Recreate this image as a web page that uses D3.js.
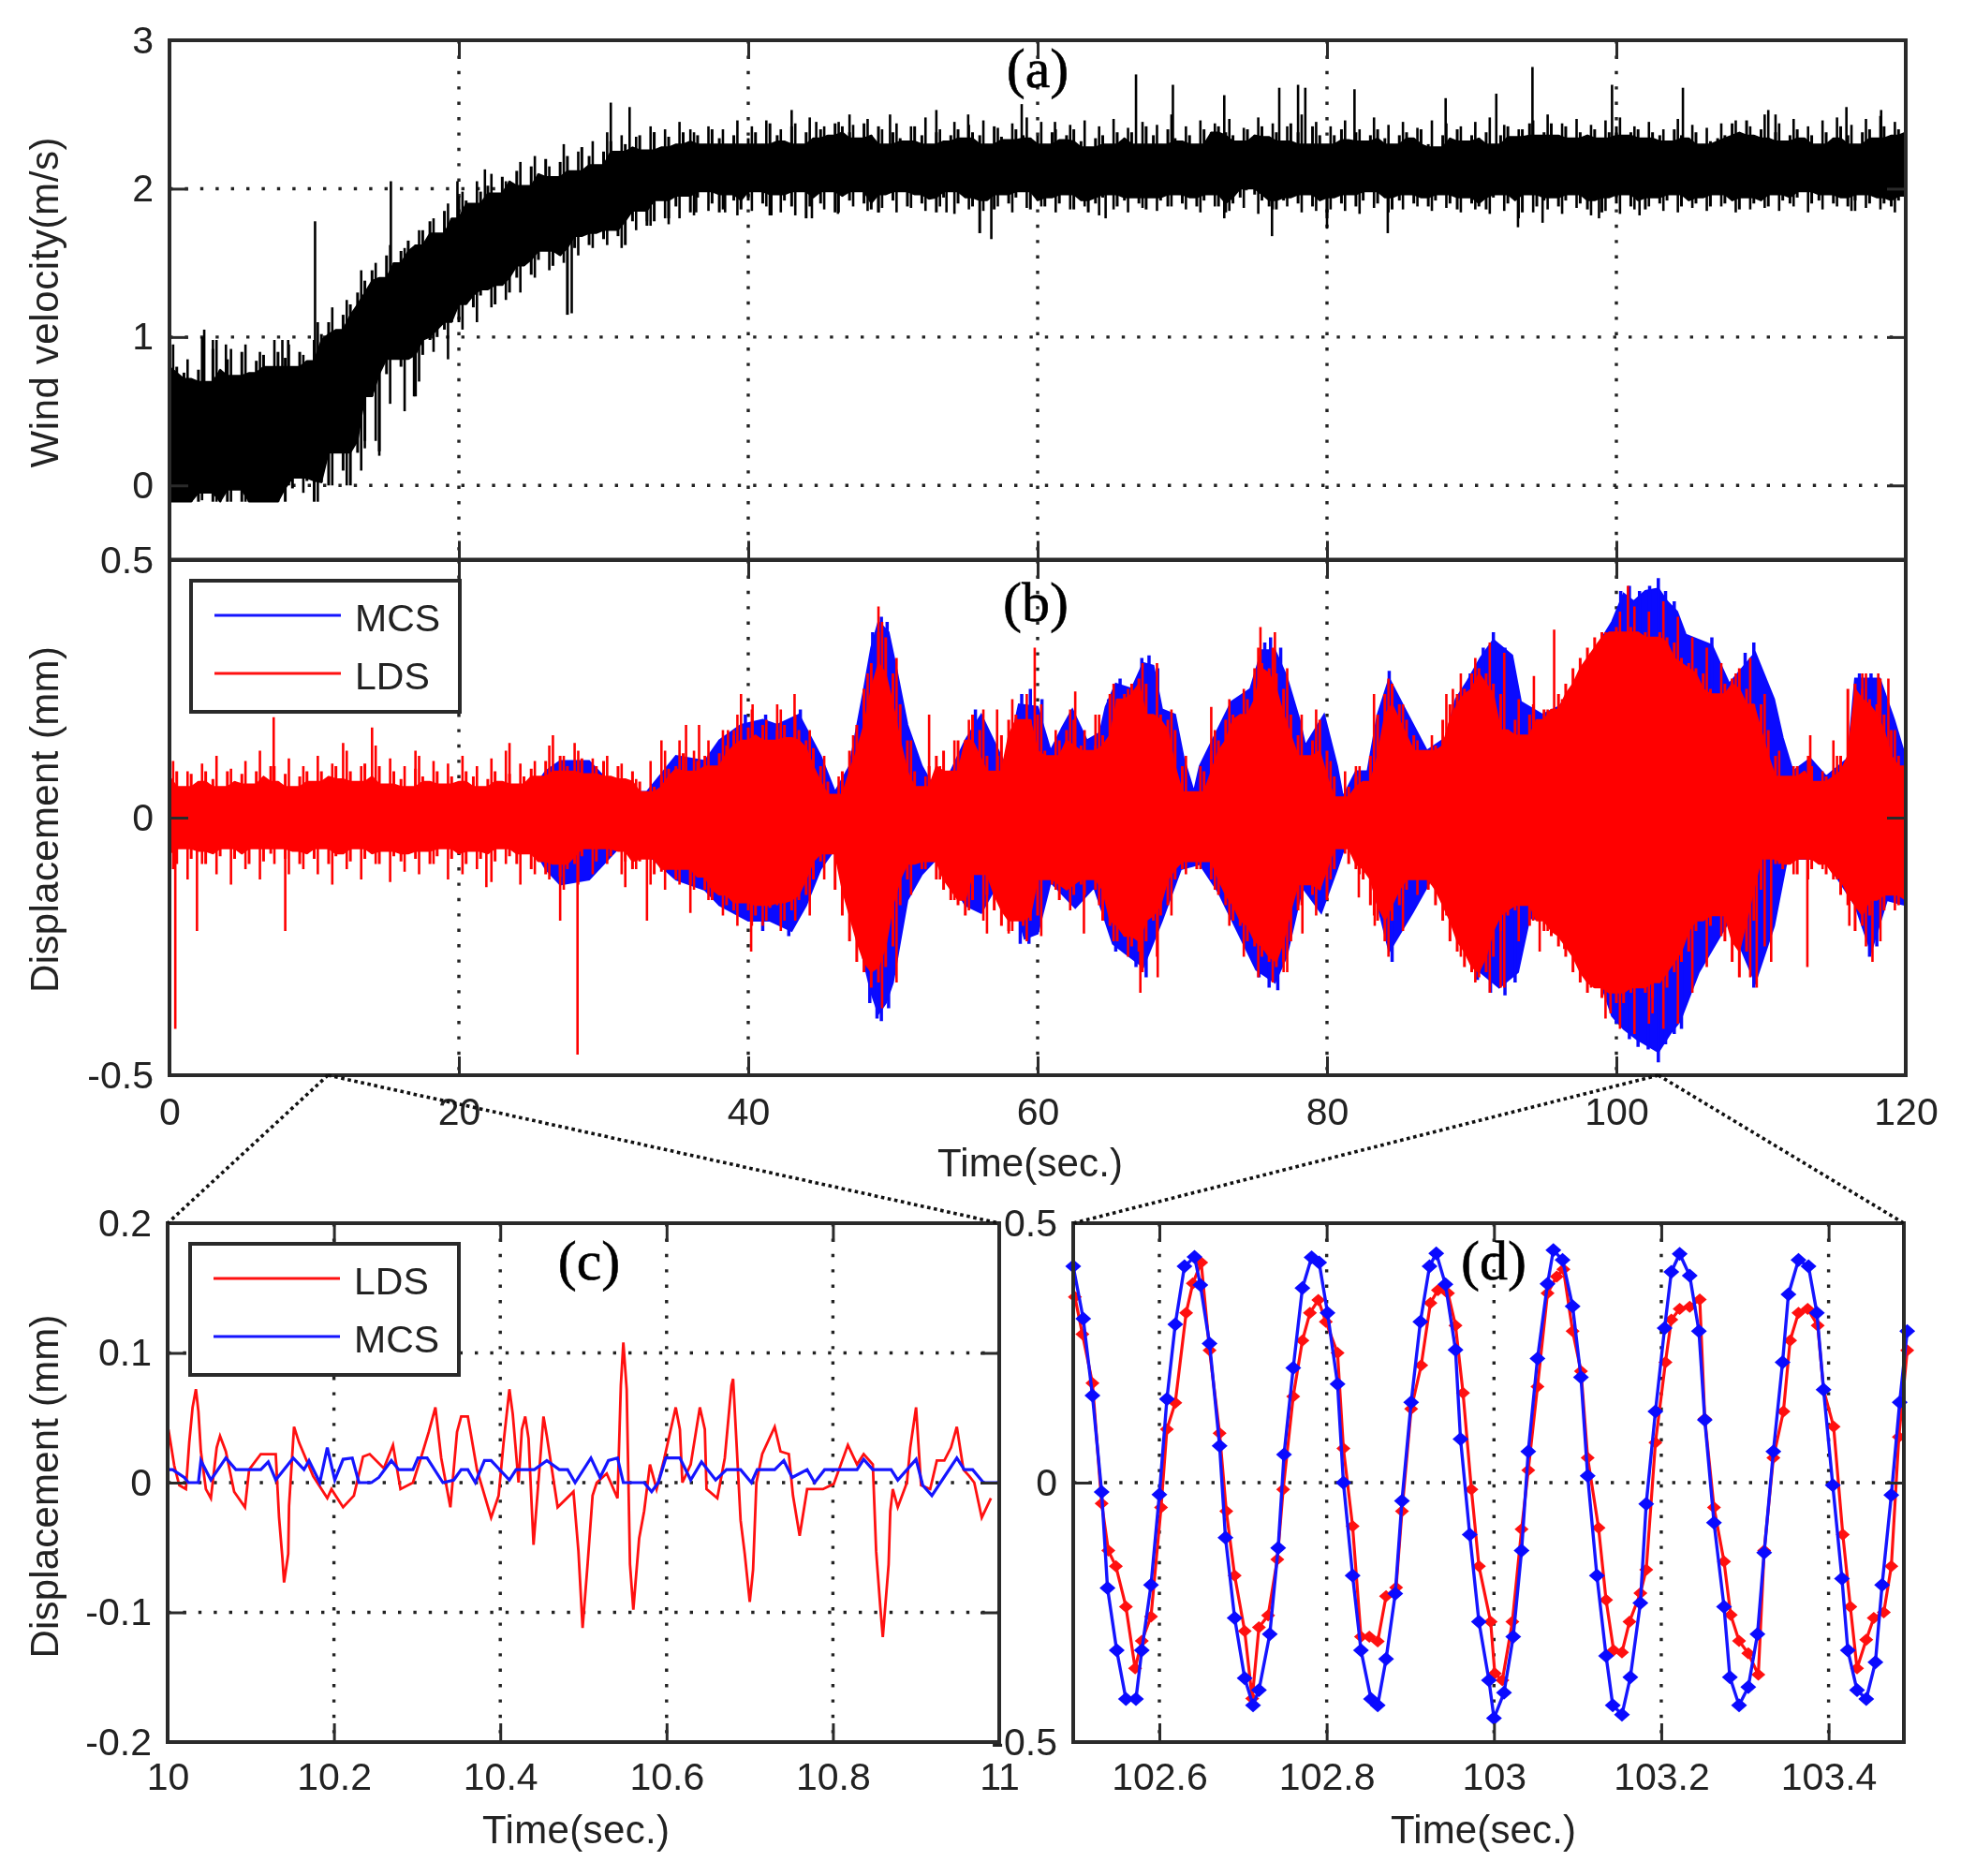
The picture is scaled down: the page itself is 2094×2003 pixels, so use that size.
<![CDATA[<!DOCTYPE html>
<html><head><meta charset="utf-8">
<script src="https://cdn.jsdelivr.net/npm/d3@7"></script>
<style>
html,body{margin:0;padding:0;background:#fff}
svg{display:block;filter:blur(0.7px)}
text{font-family:"Liberation Sans",Arial,sans-serif;fill:#222}
.serif{font-family:"Liberation Serif","Times New Roman",serif;fill:#000;stroke:#000;stroke-width:.6px}
</style></head><body>
<svg id="c" width="2094" height="2003"></svg>
<script>
// ---------- data read from the picture ----------
const bTicksX=[0,20,40,60,80,100,120];
const aTicksY=[3,2,1,0];
const bTicksY=[0.5,0,-0.5];
const cTicksX=[10,10.2,10.4,10.6,10.8,11];
const cTicksY=[0.2,0.1,0,-0.1,-0.2];
const dTicksX=[102.6,102.8,103,103.2,103.4];
const dTicksY=[0.5,0,-0.5];
const sampleStep=0.5; // seconds between the envelope samples below

const windHi=[1.05,.80,.76,.72,.78,.70,.92,.78,.85,.74,.90,.76,.84,.88,.80,.90,.86,.80,.90,.84,
.98,1.02,1.10,1.05,1.15,1.22,1.30,1.38,1.45,1.40,1.55,1.50,1.58,1.65,1.62,1.72,1.78,1.70,1.85,1.80,
1.95,1.92,1.90,1.98,2.02,1.97,2.08,2.05,2.12,2.02,2.15,2.10,2.20,2.08,2.18,2.22,2.12,2.28,2.22,2.16,
2.25,2.32,2.25,2.30,2.28,2.36,2.26,2.38,2.28,2.35,2.30,2.38,2.32,2.36,2.30,2.40,2.34,2.30,2.36,2.30,
2.34,2.38,2.30,2.44,2.36,2.32,2.42,2.30,2.38,2.34,2.40,2.36,2.44,2.42,2.38,2.34,2.44,2.36,2.42,2.30,
2.38,2.34,2.32,2.42,2.36,2.30,2.38,2.32,2.36,2.40,2.34,2.38,2.36,2.30,2.42,2.35,2.33,2.40,2.36,2.34,
2.36,2.30,2.38,2.33,2.36,2.40,2.32,2.28,2.34,2.36,2.30,2.38,2.34,2.38,2.30,2.42,2.36,2.30,2.40,2.34,
2.32,2.36,2.30,2.40,2.38,2.42,2.38,2.36,2.32,2.40,2.36,2.42,2.35,2.38,2.32,2.44,2.38,2.30,2.42,2.36,
2.30,2.36,2.40,2.33,2.38,2.32,2.36,2.40,2.34,2.30,2.36,2.38,2.34,2.40,2.30,2.28,2.36,2.34,2.40,2.32,
2.36,2.34,2.38,2.30,2.36,2.42,2.35,2.40,2.44,2.36,2.38,2.44,2.36,2.42,2.34,2.38,2.36,2.40,2.34,2.38,
2.42,2.36,2.38,2.40,2.34,2.38,2.36,2.32,2.40,2.36,2.34,2.38,2.30,2.32,2.34,2.36,2.44,2.38,2.46,2.36,
2.40,2.34,2.38,2.32,2.36,2.40,2.34,2.36,2.30,2.38,2.34,2.42,2.36,2.30,2.38,2.40,2.34,2.42,2.36,2.40,2.38];
const windLo=[-.11,-.11,-.11,-.11,-.11,-.05,-.11,-.11,-.11,-.03,-.11,-.11,-.11,-.11,-.11,-.11,-.11,-.02,.05,.03,
-.11,.02,.00,.22,.10,.00,.22,.30,.60,.23,.75,.85,.80,.85,.60,.88,.98,1.00,1.05,1.10,
1.10,1.22,1.20,1.28,1.32,1.22,1.35,1.30,1.40,1.48,1.42,1.52,1.58,1.48,1.55,1.15,1.60,1.68,1.62,1.70,
1.66,1.72,1.68,1.62,1.78,1.85,1.75,1.78,1.92,1.80,1.88,1.95,1.84,1.94,1.98,1.90,1.84,1.96,1.92,1.86,
1.92,1.98,1.90,1.82,1.96,1.92,1.88,1.98,1.80,1.94,1.90,1.98,1.84,1.95,1.92,1.98,1.90,1.86,1.84,1.96,
1.92,1.98,1.88,1.96,1.90,1.93,1.84,1.94,1.98,1.90,1.94,1.88,1.70,1.92,1.86,1.96,1.90,1.94,1.98,1.86,
1.92,1.88,1.94,1.90,1.96,1.86,1.92,1.84,1.90,1.94,1.96,1.88,1.92,1.94,1.90,1.86,1.94,1.92,1.88,1.96,
1.90,1.94,1.88,1.92,1.96,1.88,1.84,1.90,1.94,2.00,1.96,1.92,1.88,1.86,1.92,1.94,1.90,1.96,1.88,1.92,
1.80,1.94,1.90,1.96,1.88,1.92,1.98,1.90,1.94,1.86,1.92,1.96,1.90,1.94,1.88,1.92,1.96,1.90,1.86,1.94,
1.90,1.88,1.86,1.94,1.96,1.90,1.92,1.84,1.96,1.88,1.92,1.94,1.88,1.92,1.96,1.90,1.86,1.92,1.84,1.94,
1.90,1.96,1.88,1.92,1.86,1.94,1.90,1.92,1.96,1.88,1.92,1.90,1.94,1.88,1.96,1.90,1.92,1.86,1.94,1.90,
1.92,1.88,1.96,1.92,1.90,1.94,1.98,1.90,1.92,1.96,1.90,1.94,1.88,1.92,1.96,1.90,1.94,1.90,1.88,1.92,1.95];
// fringe peaks, one per second (at second + 0.25)
const windFringeHi=[.95,.85,1.0,.98,.92,.95,.9,.98,.95,.88,1.1,1.2,1.25,1.45,1.5,1.62,1.6,1.72,1.8,1.9,
1.98,2.05,2.1,2.05,2.18,2.22,2.15,2.3,2.25,2.32,2.38,2.36,2.35,2.42,2.4,2.45,2.38,2.42,2.4,2.46,
2.42,2.46,2.4,2.44,2.48,2.42,2.45,2.43,2.47,2.4,2.44,2.42,2.48,2.4,2.45,2.43,2.46,2.41,2.44,2.48,
2.45,2.4,2.43,2.46,2.42,2.47,2.41,2.45,2.43,2.5,2.42,2.46,2.44,2.47,2.41,2.48,2.44,2.42,2.5,2.45,
2.42,2.46,2.4,2.48,2.43,2.45,2.41,2.46,2.44,2.42,2.45,2.48,2.43,2.4,2.46,2.5,2.44,2.47,2.43,2.46,
2.48,2.42,2.45,2.4,2.47,2.43,2.41,2.44,2.46,2.42,2.5,2.44,2.47,2.42,2.46,2.48,2.43,2.47,2.49,2.45];
const windFringeLo=[-.11,-.11,-.1,-.11,-.11,-.11,-.1,-.03,0,-.05,-.11,0,0,.1,.3,.55,.5,.7,.9,.85,
1.05,1.1,1.2,1.25,1.3,1.4,1.45,1.5,1.55,1.6,1.62,1.6,1.72,1.75,1.8,1.8,1.82,1.85,1.86,1.82,
1.85,1.88,1.84,1.82,1.88,1.86,1.84,1.88,1.85,1.87,1.84,1.87,1.85,1.88,1.83,1.86,1.85,1.88,1.84,1.87,
1.88,1.84,1.86,1.88,1.82,1.86,1.84,1.87,1.85,1.88,1.86,1.84,1.88,1.85,1.87,1.83,1.86,1.88,1.84,1.85,
1.86,1.85,1.83,1.87,1.84,1.86,1.88,1.85,1.87,1.84,1.86,1.83,1.85,1.8,1.84,1.86,1.83,1.87,1.82,1.85,
1.83,1.86,1.88,1.85,1.84,1.87,1.85,1.88,1.84,1.86,1.87,1.85,1.88,1.84,1.86,1.88,1.85,1.87,1.86,1.84];
const windSpikes=[[2.4,1.05],[3,.98],[3.9,.95],[7.8,.98],[8.2,.98],[10.06,1.78],[15.3,2.05],[19.9,2.05],[21.8,2.13],[30.5,2.58],[31.8,2.55],[33.5,2.38],[36,2.4],[43,2.53],[44.7,2.45],[47,2.5],[49.8,2.5],[53,2.53],[55.2,2.5],[58.9,2.57],[61.2,2.45],[66.8,2.77],[69.35,2.7],[72.9,2.63],[76.7,2.68],[78,2.7],[78.5,2.68],[81.9,2.67],[88.2,2.61],[91.7,2.64],[94.2,2.82],[99.7,2.7],[104.6,2.68],[110.5,2.53],[111,2.5],[115.9,2.55],[118.3,2.53],
[13.5,.25],[14.5,.2],[16.9,.6],[27.8,1.16],[33,1.78],[34.5,1.76],[36.4,1.84],[38.4,1.84],[41.6,1.82],[44.4,1.8],[46.2,1.83],[49,1.84],[53.7,1.84],[56.8,1.66],[64.7,1.8],[72.9,1.8],[76.2,1.68],[80,1.73],[84.2,1.7],[93.2,1.74],[94.9,1.77],[98.8,1.8],[101.6,1.82],[116.5,1.85]];

const ldsHi=[.08,.09,.06,.085,.07,.09,.075,.06,.09,.07,.085,.065,.09,.08,.10,.07,.085,.06,.08,.09,
.07,.09,.08,.10,.075,.09,.07,.105,.08,.10,.065,.09,.075,.06,.095,.08,.07,.09,.065,.08,
.07,.09,.08,.06,.075,.09,.07,.085,.065,.08,.095,.08,.11,.09,.12,.10,.09,.115,.085,.10,
.11,.08,.10,.075,.09,.07,.05,.06,.08,.095,.10,.125,.09,.11,.12,.10,.125,.14,.16,.15,
.175,.16,.18,.15,.17,.18,.155,.17,.15,.135,.10,.07,.045,.09,.13,.18,.25,.30,.36,.35,
.28,.22,.15,.09,.06,.10,.12,.13,.09,.15,.15,.20,.17,.12,.09,.16,.19,.20,.19,.19,
.20,.13,.12,.15,.17,.19,.14,.13,.14,.16,.24,.23,.24,.26,.27,.26,.20,.20,.19,.17,
.10,.05,.05,.09,.13,.15,.19,.20,.20,.23,.29,.30,.29,.28,.25,.20,.16,.12,.15,.19,
.13,.08,.04,.06,.08,.07,.12,.20,.24,.26,.22,.19,.16,.13,.13,.14,.19,.22,.24,.25,
.28,.29,.28,.26,.24,.17,.19,.16,.20,.19,.21,.21,.24,.26,.29,.31,.33,.35,.36,.36,
.37,.36,.37,.36,.36,.35,.36,.35,.34,.31,.30,.29,.28,.25,.24,.26,.27,.29,.25,.22,
.22,.17,.12,.08,.08,.10,.09,.10,.07,.08,.09,.12,.25,.26,.25,.23,.22,.20,.17,.12,.10];
const ldsLo=[-.07,-.09,-.06,-.08,-.065,-.09,-.07,-.075,-.06,-.08,-.07,-.09,-.06,-.085,-.07,-.06,-.08,-.065,-.09,-.07,
-.08,-.06,-.09,-.075,-.07,-.085,-.06,-.08,-.07,-.09,-.065,-.075,-.085,-.07,-.08,-.065,-.09,-.075,-.06,-.08,
-.07,-.09,-.065,-.08,-.07,-.085,-.06,-.075,-.09,-.07,-.10,-.085,-.11,-.09,-.115,-.10,-.09,-.075,-.06,-.085,
-.06,-.075,-.065,-.085,-.10,-.085,-.08,-.11,-.105,-.10,-.12,-.10,-.13,-.115,-.14,-.16,-.15,-.17,-.18,-.165,
-.18,-.19,-.17,-.175,-.17,-.165,-.18,-.16,-.15,-.12,-.085,-.07,-.14,-.19,-.24,-.28,-.30,-.33,-.32,-.29,
-.25,-.17,-.12,-.09,-.10,-.085,-.12,-.14,-.16,-.17,-.19,-.16,-.11,-.15,-.18,-.21,-.22,-.20,-.21,-.20,
-.19,-.12,-.13,-.16,-.14,-.15,-.13,-.12,-.14,-.20,-.21,-.24,-.23,-.25,-.26,-.24,-.20,-.19,-.17,-.12,
-.10,-.085,-.10,-.085,-.12,-.15,-.17,-.20,-.21,-.24,-.25,-.27,-.28,-.29,-.28,-.24,-.18,-.13,-.15,-.14,
-.16,-.10,-.06,-.09,-.10,-.12,-.17,-.20,-.24,-.20,-.17,-.14,-.12,-.12,-.14,-.17,-.20,-.24,-.26,-.29,
-.30,-.31,-.30,-.27,-.22,-.19,-.18,-.17,-.21,-.20,-.22,-.23,-.25,-.27,-.30,-.32,-.34,-.33,-.35,-.34,
-.36,-.36,-.34,-.33,-.34,-.35,-.32,-.33,-.30,-.28,-.26,-.22,-.20,-.21,-.19,-.24,-.28,-.31,-.26,-.20,
-.14,-.08,-.09,-.10,-.09,-.11,-.08,-.10,-.09,-.11,-.12,-.15,-.17,-.22,-.21,-.19,-.16,-.18,-.15,-.17,-.16];
const ldsFringeHi=[.11,.09,.105,.12,.095,.11,.13,.10,.115,.10,.12,.105,.13,.10,.14,.115,.10,.12,.11,.105,
.12,.10,.115,.13,.105,.11,.14,.12,.13,.115,.12,.105,.075,.11,.13,.15,.13,.15,.17,.20,
.21,.19,.21,.20,.17,.12,.08,.16,.28,.38,.31,.15,.08,.10,.15,.19,.21,.12,.23,.24,
.22,.17,.21,.17,.20,.26,.25,.30,.30,.21,.12,.10,.17,.23,.25,.33,.33,.29,.20,.21,
.11,.09,.10,.24,.27,.22,.15,.16,.24,.28,.31,.34,.32,.23,.22,.21,.23,.27,.32,.36,
.40,.41,.40,.42,.39,.35,.33,.30,.28,.31,.24,.13,.10,.12,.09,.12,.13,.28,.27,.17];
const ldsFringeLo=[-.10,-.12,-.09,-.11,-.13,-.10,-.12,-.09,-.11,-.10,-.11,-.13,-.10,-.12,-.09,-.125,-.105,-.11,-.09,-.12,
-.11,-.10,-.125,-.09,-.13,-.11,-.12,-.14,-.13,-.11,-.09,-.11,-.10,-.13,-.14,-.13,-.14,-.16,-.19,-.21,
-.21,-.2,-.22,-.2,-.19,-.12,-.09,-.17,-.29,-.37,-.32,-.15,-.1,-.12,-.16,-.18,-.2,-.13,-.22,-.24,
-.23,-.14,-.18,-.15,-.17,-.24,-.27,-.3,-.27,-.19,-.11,-.1,-.14,-.21,-.27,-.31,-.32,-.3,-.17,-.19,
-.12,-.07,-.11,-.19,-.27,-.22,-.15,-.13,-.19,-.27,-.32,-.34,-.33,-.24,-.2,-.22,-.24,-.28,-.33,-.39,
-.41,-.42,-.4,-.41,-.4,-.34,-.29,-.23,-.24,-.31,-.25,-.09,-.11,-.12,-.1,-.12,-.15,-.25,-.24,-.18];
const ldsSpikes=[[.4,-.41],[1.9,-.22],[8,-.22],[21.9,-.135],[27,-.2],[28.2,-.46],[31.5,-.135],[33,-.2],[36,-.185],[40.2,-.26],[41,-.21],[42.5,-.2],[47,-.15],[56.5,-.225],[58,-.225],[63.2,-.225],[67.1,-.34],[68.3,-.31],[77,-.30],[78.3,-.225],[82.2,-.155],[83.3,-.21],[92,-.33],[94.7,-.26],[96.4,-.255],[99.6,-.38],[102.5,-.38],[109.7,-.33],[110.7,-.28],[113.2,-.29],[116.1,-.21],[117.7,-.28],
[7.2,.195],[12,.145],[14,.175],[17,.13],[23.5,.145],[26.5,.16],[28,.145],[34,.15],[35.7,.18],[36.6,.18],[38.6,.17],[39,.17],[39.5,.24],[40.3,.22],[42,.22],[43.2,.24],[49,.41],[52.5,.2],[57.2,.21],[59.8,.33],[62.6,.245],[64,.2],[72,.215],[75.4,.37],[76.4,.36],[82,.10],[88.7,.25],[94.3,.275],[95.7,.365],[100.8,.45],[113.4,.16],[115,.15],[117,.28],[118.1,.28],[118.8,.27]];

const mcsHi=[[0,.04],[25,.05],[26,.09],[27,.11],[29,.11],[31,.05],[33,.05],[35,.12],[37,.11],[38,.15],[39.5,.18],[41,.19],[42,.18],[43.5,.2],[45,.12],[46,.05],[47,.1],[48,.25],[48.5,.33],[49,.38],[49.7,.36],[50.3,.28],[51,.18],[52,.1],[53,.05],[54,.09],[55,.15],[56.1,.2],[57.8,.1],[58.7,.22],[60,.215],[60.9,.13],[61.7,.175],[62.4,.21],[63.4,.15],[64.3,.165],[64.7,.215],[65.4,.26],[66.5,.25],[67.3,.30],[68,.295],[68.6,.21],[69.5,.2],[70.1,.115],[70.8,.05],[71.2,.1],[71.9,.14],[73.4,.225],[74.7,.25],[75.5,.325],[76.4,.325],[77.2,.275],[78.1,.19],[78.5,.14],[79.8,.2],[80.7,.1],[81.1,.04],[82,.09],[82.8,.09],[83.5,.2],[84.3,.27],[85.4,.21],[86.9,.13],[88.2,.155],[88.9,.23],[89.7,.265],[90.6,.31],[91.5,.345],[92.8,.315],[93.4,.225],[94.9,.2],[96,.215],[97.7,.265],[98.6,.33],[99.7,.38],[100.5,.435],[101.2,.42],[102,.44],[102.9,.445],[103.5,.42],[104.2,.4],[104.8,.355],[106.6,.335],[107.8,.26],[109.6,.32],[110.9,.23],[111.5,.155],[112.2,.09],[113.4,.115],[114.5,.08],[116,.115],[116.5,.27],[118.2,.27],[119.2,.19],[120,.115]];
const mcsLo=[[0,-.04],[25,-.05],[26,-.1],[27,-.13],[29,-.12],[31,-.06],[33,-.07],[35,-.12],[37,-.14],[38,-.17],[40,-.2],[41.5,-.2],[43,-.22],[44,-.17],[45,-.1],[46,-.06],[47,-.15],[48,-.28],[48.5,-.34],[49,-.38],[49.5,-.36],[50,-.32],[51,-.16],[52,-.11],[53,-.08],[54,-.12],[55,-.17],[56.1,-.185],[57.8,-.1],[58.5,-.175],[59.1,-.235],[60,-.225],[60.9,-.125],[62.6,-.175],[63.9,-.135],[65.2,-.245],[67.3,-.29],[68.6,-.2],[69.9,-.1],[71.2,-.09],[72.5,-.145],[73.8,-.22],[75.1,-.295],[76.4,-.32],[77.2,-.27],[78.3,-.135],[79.6,-.185],[80.7,-.1],[81.3,-.05],[82.8,-.09],[84.3,-.26],[85.9,-.185],[87.2,-.12],[88.9,-.185],[90.6,-.3],[91.9,-.33],[93.2,-.3],[94,-.195],[95.7,-.2],[98.3,-.27],[99.7,-.385],[100.5,-.41],[101.4,-.43],[102,-.44],[102.9,-.455],[103.7,-.42],[104.4,-.395],[105.7,-.3],[107.8,-.2],[109.6,-.32],[110.9,-.21],[111.8,-.08],[114.4,-.08],[116.5,-.17],[117.6,-.26],[118.7,-.16],[120,-.17]];
const mcsSpikes=[[39.8,.2],[41.2,.2],[43.6,.21],[48.6,.36],[49.2,.39],[49.6,.38],[55.7,.21],[58.9,.24],[59.5,.25],[60.3,.23],[64.9,.23],[65.7,.27],[67.2,.31],[67.7,.315],[68.3,.29],[75.7,.34],[76.1,.35],[76.8,.33],[84.3,.285],[89.9,.28],[90.8,.33],[91.5,.36],[92.3,.33],[98.8,.34],[100.3,.44],[100.9,.45],[101.6,.44],[102.3,.45],[102.9,.465],[103.4,.44],[104,.42],[106.6,.35],[108.9,.32],[109.5,.34],[116.8,.28],[117.6,.28],[119,.2],
[41,-.22],[42.8,-.23],[48.4,-.36],[48.9,-.39],[49.2,-.395],[49.7,-.37],[58.8,-.245],[59.4,-.245],[65.4,-.26],[66.8,-.29],[67.5,-.31],[75.3,-.31],[76,-.33],[76.6,-.335],[84.5,-.28],[90.4,-.315],[91.3,-.34],[92.3,-.345],[93,-.32],[100,-.4],[100.9,-.43],[101.5,-.445],[102.2,-.45],[102.9,-.475],[103.4,-.44],[104,-.42],[104.5,-.41],[109.5,-.33],[117.5,-.27],[118,-.25]];

const zoomLds=[[10.001,.041],[10.008,.013],[10.014,-.002],[10.022,-.005],[10.026,.031],[10.03,.058],[10.034,.072],[10.037,.055],[10.04,.024],[10.046,-.005],[10.052,-.012],[10.059,.027],[10.063,.036],[10.07,.024],[10.08,-.007],[10.093,-.019],[10.098,.01],[10.112,.022],[10.13,.022],[10.134,-.027],[10.138,-.058],[10.14,-.077],[10.145,-.055],[10.146,-.018],[10.152,.043],[10.158,.031],[10.175,.005],[10.192,-.012],[10.197,-.005],[10.211,-.019],[10.224,-.01],[10.235,.02],[10.243,.022],[10.26,.011],[10.271,.029],[10.28,-.005],[10.295,0],[10.306,.022],[10.314,.039],[10.322,.058],[10.329,.019],[10.34,-.019],[10.348,.039],[10.353,.051],[10.361,.051],[10.372,.01],[10.389,-.027],[10.398,-.01],[10.404,.031],[10.411,.072],[10.415,.053],[10.422,0],[10.426,.041],[10.43,.051],[10.434,.034],[10.44,-.048],[10.452,.051],[10.456,.036],[10.469,-.019],[10.488,-.007],[10.494,-.053],[10.499,-.112],[10.505,-.063],[10.511,-.01],[10.516,0],[10.528,.007],[10.541,-.012],[10.545,.075],[10.548,.108],[10.552,.072],[10.556,-.063],[10.56,-.098],[10.567,-.043],[10.573,-.022],[10.58,.014],[10.588,-.005],[10.597,.018],[10.605,.041],[10.611,.058],[10.616,.041],[10.619,0],[10.629,.014],[10.64,.058],[10.646,.041],[10.648,-.005],[10.661,-.012],[10.67,.019],[10.678,.075],[10.68,.08],[10.689,-.029],[10.694,-.055],[10.7,-.092],[10.704,-.067],[10.708,0],[10.715,.022],[10.73,.043],[10.737,.024],[10.747,.022],[10.752,-.01],[10.76,-.041],[10.769,-.005],[10.788,-.005],[10.801,-.001],[10.818,.029],[10.829,.014],[10.837,.022],[10.848,.014],[10.852,-.053],[10.857,-.096],[10.86,-.119],[10.867,-.063],[10.869,-.022],[10.872,-.005],[10.878,-.019],[10.889,0],[10.893,.027],[10.9,.058],[10.906,-.002],[10.917,-.005],[10.925,.017],[10.934,.017],[10.942,.027],[10.949,.043],[10.957,.01],[10.964,.005],[10.97,0],[10.979,-.027],[10.99,-.012]];
const zoomMcs=[[10.001,.01],[10.006,.01],[10.02,.004],[10.025,0],[10.037,0],[10.04,.017],[10.052,.002],[10.07,.019],[10.082,.01],[10.112,.01],[10.121,.016],[10.13,.002],[10.151,.019],[10.164,.01],[10.17,.017],[10.183,0],[10.192,.027],[10.201,.002],[10.211,.018],[10.222,.019],[10.23,0],[10.245,0],[10.254,.004],[10.269,.017],[10.278,.01],[10.295,.01],[10.301,.019],[10.312,.019],[10.331,0],[10.344,.002],[10.353,.01],[10.361,.01],[10.37,0],[10.381,.017],[10.389,.017],[10.411,.002],[10.419,.01],[10.441,.01],[10.456,.017],[10.471,.01],[10.481,.01],[10.49,0],[10.509,.019],[10.52,.004],[10.53,.017],[10.541,.019],[10.548,0],[10.573,0],[10.582,-.007],[10.59,0],[10.599,.019],[10.616,.019],[10.629,.002],[10.642,.016],[10.659,.002],[10.672,.01],[10.689,.01],[10.702,0],[10.709,.01],[10.73,.01],[10.741,.017],[10.751,.004],[10.769,.01],[10.778,0],[10.79,.01],[10.829,.01],[10.837,.018],[10.848,.01],[10.87,.01],[10.878,.002],[10.9,.018],[10.908,-.002],[10.919,-.01],[10.949,.019],[10.958,.01],[10.968,.01],[10.981,0],[11,0]];

const peakMcs=[[102.497,.417],[102.509,.316],[102.52,.168],[102.531,-.018],[102.538,-.203],[102.549,-.323],[102.56,-.417],[102.572,-.417],[102.579,-.323],[102.59,-.197],[102.6,-.023],[102.609,.161],[102.619,.305],[102.63,.417],[102.642,.435],[102.649,.381],[102.66,.268],[102.672,.071],[102.679,-.106],[102.69,-.261],[102.702,-.377],[102.712,-.429],[102.719,-.4],[102.732,-.292],[102.742,-.126],[102.749,.054],[102.76,.221],[102.771,.375],[102.782,.434],[102.791,.424],[102.801,.327],[102.813,.19],[102.82,0],[102.831,-.179],[102.841,-.323],[102.853,-.417],[102.861,-.429],[102.871,-.34],[102.882,-.214],[102.89,-.035],[102.901,.155],[102.912,.31],[102.923,.417],[102.931,.442],[102.942,.382],[102.954,.256],[102.96,.084],[102.971,-.1],[102.982,-.268],[102.994,-.381],[103,-.454],[103.012,-.405],[103.023,-.297],[103.033,-.131],[103.041,.06],[103.052,.239],[103.064,.383],[103.071,.448],[103.082,.429],[103.094,.34],[103.104,.203],[103.112,.013],[103.123,-.179],[103.134,-.334],[103.142,-.429],[103.153,-.447],[103.163,-.375],[103.175,-.232],[103.182,-.041],[103.193,.137],[103.204,.298],[103.212,.406],[103.222,.441],[103.234,.399],[103.245,.292],[103.252,.121],[103.263,-.077],[103.275,-.239],[103.282,-.375],[103.293,-.429],[103.304,-.394],[103.315,-.292],[103.323,-.135],[103.334,.06],[103.345,.232],[103.352,.363],[103.364,.429],[103.376,.417],[103.386,.327],[103.394,.179],[103.405,-.005],[103.416,-.185],[103.423,-.323],[103.434,-.4],[103.445,-.417],[103.456,-.346],[103.464,-.197],[103.475,-.024],[103.485,.155],[103.494,.292]];
const peakLds=[[102.499,.358],[102.508,.286],[102.52,.192],[102.531,-.04],[102.539,-.131],[102.548,-.161],[102.56,-.239],[102.571,-.358],[102.579,-.305],[102.59,-.258],[102.602,-.048],[102.609,.103],[102.619,.154],[102.632,.327],[102.64,.384],[102.65,.424],[102.66,.255],[102.672,.095],[102.68,-.055],[102.69,-.179],[102.702,-.286],[102.711,-.416],[102.719,-.279],[102.73,-.256],[102.741,-.148],[102.748,-.013],[102.76,.166],[102.771,.274],[102.78,.327],[102.79,.352],[102.799,.31],[102.813,.25],[102.82,.066],[102.831,-.084],[102.841,-.297],[102.851,-.297],[102.861,-.306],[102.871,-.219],[102.883,-.202],[102.89,-.055],[102.901,.142],[102.913,.226],[102.924,.346],[102.933,.371],[102.945,.365],[102.954,.303],[102.963,.173],[102.973,-.013],[102.982,-.161],[102.996,-.268],[103.001,-.368],[103.01,-.381],[103.022,-.268],[103.033,-.09],[103.041,.024],[103.052,.185],[103.064,.365],[103.075,.397],[103.083,.411],[103.094,.292],[103.104,.215],[103.112,.048],[103.125,-.087],[103.134,-.226],[103.143,-.323],[103.153,-.327],[103.162,-.268],[103.175,-.213],[103.182,-.168],[103.193,.077],[103.205,.232],[103.212,.314],[103.222,.335],[103.234,.339],[103.246,.353],[103.252,.123],[103.263,-.048],[103.275,-.152],[103.283,-.255],[103.293,-.305],[103.304,-.329],[103.316,-.37],[103.323,-.131],[103.334,.048],[103.346,.137],[103.354,.274],[103.364,.327],[103.375,.335],[103.387,.303],[103.394,.179],[103.406,.108],[103.417,-.1],[103.426,-.239],[103.434,-.358],[103.445,-.303],[103.454,-.261],[103.466,-.25],[103.475,-.161],[103.484,.088],[103.494,.255]];

// ---------- drawing ----------
const BLUE="#0a0aff", RED="#ff0000", INK="#2a2a2a";
const svg=d3.select("#c");
const xTop=d3.scaleLinear().domain([0,120]).range([181,2035]);
const yA=d3.scaleLinear().domain([-0.5,3]).range([597.5,43]);
const yB=d3.scaleLinear().domain([-0.5,0.5]).range([1148,598]);
const xC=d3.scaleLinear().domain([10,11]).range([179,1067]);
const yC=d3.scaleLinear().domain([-0.2,0.2]).range([1860,1306]);
const xD=d3.scaleLinear().domain([102.497,103.49]).range([1146,2033]);
const yD=d3.scaleLinear().domain([-0.5,0.5]).range([1860,1306]);
const plain=d=>String(d);
const perSecond=list=>list.map((v,i)=>[i+0.25,v]);

function frame(x,y,tx,ty,gx,gy,showX,padX){
  const g=svg.append("g");
  const L=x.range()[0],R=x.range()[1],B=y.range()[0],T=y.range()[1];
  const grid=g.append("g").attr("stroke","#222").attr("stroke-width",3.4).attr("stroke-dasharray","3.4 13").attr("fill","none");
  gx.forEach(v=>grid.append("line").attr("x1",x(v)).attr("x2",x(v)).attr("y1",T).attr("y2",B));
  gy.forEach(v=>grid.append("line").attr("x1",L).attr("x2",R).attr("y1",y(v)).attr("y2",y(v)));
  return {g,L,R,B,T,finish(){
    const over=svg.append("g");
    const tick=20;
    const style=s=>{s.select(".domain").remove();s.selectAll("line").attr("stroke",INK).attr("stroke-width",3);s.selectAll("text").attr("font-size",41).attr("font-family",'"Liberation Sans",Arial,sans-serif').attr("fill","#222");};
    over.append("g").attr("transform",`translate(${L},0)`).call(d3.axisLeft(y).tickValues(ty).tickSize(-tick).tickSizeOuter(0).tickPadding(17).tickFormat(plain)).call(style);
    over.append("g").attr("transform",`translate(${R},0)`).call(d3.axisRight(y).tickValues(ty).tickSize(-tick).tickSizeOuter(0).tickFormat("")).call(style);
    over.append("g").attr("transform",`translate(0,${T})`).call(d3.axisTop(x).tickValues(tx).tickSize(-tick).tickSizeOuter(0).tickFormat("")).call(style);
    over.append("g").attr("transform",`translate(0,${B})`).call(d3.axisBottom(x).tickValues(tx).tickSize(-tick).tickSizeOuter(0).tickPadding(padX).tickFormat(showX?plain:"")).call(style);
    over.append("rect").attr("x",L).attr("y",T).attr("width",R-L).attr("height",B-T).attr("fill","none").attr("stroke",INK).attr("stroke-width",4);
  }};
}

// solid core between the nearest-neighbour envelope values, with one thin stick per sample out to the read value
function band(g,hi,lo,y,color){
  const rows=hi.map((h,i)=>({t:i*sampleStep,h,l:lo[i],
    ch:Math.min(h,hi[i-1]??h,hi[i+1]??h),cl:Math.max(lo[i],lo[i-1]??lo[i],lo[i+1]??lo[i])}));
  g.append("path").datum(rows).attr("fill",color).attr("stroke",color).attr("stroke-width",1.5)
   .attr("d",d3.area().x(d=>xTop(d.t)).y0(d=>y(d.cl)).y1(d=>y(d.ch)));
  g.selectAll(null).data(rows).join("line").attr("x1",d=>xTop(d.t)).attr("x2",d=>xTop(d.t))
   .attr("y1",d=>y(d.h)).attr("y2",d=>y(d.l)).attr("stroke",color).attr("stroke-width",3);
  return rows;
}
function spikes(g,list,rows,y,color,w){
  g.selectAll(null).data(list).join("line")
   .attr("x1",d=>xTop(d[0])).attr("x2",d=>xTop(d[0])).attr("y1",d=>y(d[1]))
   .attr("y2",d=>{const r=rows[Math.min(rows.length-1,Math.floor(d[0]/sampleStep))];return y((r.h+r.l)/2);})
   .attr("stroke",color).attr("stroke-width",w);
}

// (a)
const fa=frame(xTop,yA,[20,40,60,80,100,120,0],aTicksY,[20,40,60,80,100],[0,1,2],false,0);
const windRows=band(fa.g,windHi,windLo,yA,"#000");
spikes(fa.g,windSpikes,windRows,yA,"#000",2.6);
spikes(fa.g,perSecond(windFringeHi),windRows,yA,"#000",2.6);
spikes(fa.g,perSecond(windFringeLo),windRows,yA,"#000",2.6);
fa.finish();

// (b)
const fb=frame(xTop,yB,bTicksX,bTicksY,[20,40,60,80,100],[],true,24);
[mcsHi,mcsLo].forEach(rows=>fb.g.append("path").datum(rows).attr("fill",BLUE).attr("stroke",BLUE).attr("stroke-width",2)
  .attr("d",d3.area().x(d=>xTop(d[0])).y0(yB(0)).y1(d=>yB(d[1]))));
fb.g.selectAll(null).data(mcsSpikes).join("line").attr("x1",d=>xTop(d[0])).attr("x2",d=>xTop(d[0]))
  .attr("y1",d=>yB(d[1])).attr("y2",yB(0)).attr("stroke",BLUE).attr("stroke-width",3.5);
const ldsRows=band(fb.g,ldsHi,ldsLo,yB,RED);
spikes(fb.g,ldsSpikes,ldsRows,yB,RED,2.6);
spikes(fb.g,perSecond(ldsFringeHi),ldsRows,yB,RED,2.6);
spikes(fb.g,perSecond(ldsFringeLo),ldsRows,yB,RED,2.6);
fb.finish();

// (c)
const fc=frame(xC,yC,cTicksX,cTicksY,[10.2,10.4,10.6,10.8],[0,-0.1,0.1],true,22);
const lineC=d3.line().x(d=>xC(d[0])).y(d=>yC(d[1]));
fc.g.append("path").datum(zoomLds).attr("fill","none").attr("stroke","#ff1010").attr("stroke-width",2.8).attr("d",lineC);
fc.g.append("path").datum(zoomMcs).attr("fill","none").attr("stroke","#1515ff").attr("stroke-width",3.2).attr("d",lineC);
fc.finish();

// (d)
const fd=frame(xD,yD,dTicksX,dTicksY,[102.6,102.8,103,103.2,103.4],[0],true,22);
const lineD=d3.line().x(d=>xD(d[0])).y(d=>yD(d[1]));
const diamond=(g,rows,color,rx,ry)=>g.selectAll(null).data(rows).join("path")
  .attr("fill",color).attr("transform",d=>`translate(${xD(d[0])},${yD(d[1])})`)
  .attr("d",`M${-rx},0L0,${-ry}L${rx},0L0,${ry}Z`);
fd.g.append("path").datum(peakLds).attr("fill","none").attr("stroke","#ff1010").attr("stroke-width",3.2).attr("d",lineD);
diamond(fd.g,peakLds,"#ff1010",7.5,6.5);
fd.g.append("path").datum(peakMcs).attr("fill","none").attr("stroke","#1515ff").attr("stroke-width",3.4).attr("d",lineD);
diamond(fd.g,peakMcs,"#0a0aff",8.5,7.5);
fd.finish();

// zoom connectors
const conn=svg.append("g").attr("stroke","#111").attr("stroke-width",3.6).attr("stroke-dasharray","3.6 3.6").attr("fill","none");
[[xTop(10.95),xC(10),xC(11)],[xTop(102.9),xD(102.497),xD(103.49)]].forEach(([ax,l,r])=>{
  conn.append("line").attr("x1",ax).attr("y1",yB(-0.5)).attr("x2",l).attr("y2",yC(0.2));
  conn.append("line").attr("x1",ax).attr("y1",yB(-0.5)).attr("x2",r).attr("y2",yC(0.2));
});

// labels
const label=(t,x,y,o={})=>{const s=svg.append("text").text(t).attr("x",x).attr("y",y).attr("font-size",o.size||42).attr("text-anchor",o.anchor||"middle");
  if(o.rot)s.attr("transform",`rotate(-90 ${x} ${y})`);
  if(o.len)s.attr("textLength",o.len).attr("lengthAdjust","spacing");
  if(o.cls)s.attr("class",o.cls);return s;};
label("Wind velocity(m/s)",62,323,{rot:true,len:353});
label("Displacement (mm)",62,875,{rot:true,len:370});
label("Displacement (mm)",62,1587,{rot:true,len:367});
label("Time(sec.)",1100,1256,{len:198});
label("Time(sec.)",615,1968,{len:200});
label("Time(sec.)",1584,1968,{len:198});
label("(a)",1108,93,{size:60,cls:"serif"});
label("(b)",1106,663,{size:60,cls:"serif"});
label("(c)",629,1366,{size:60,cls:"serif"});
label("(d)",1595,1366,{size:60,cls:"serif"});

// legends
function legend(x,y,w,h,items){
  const g=svg.append("g");
  g.append("rect").attr("x",x).attr("y",y).attr("width",w).attr("height",h).attr("fill","#fff").attr("stroke",INK).attr("stroke-width",4);
  items.forEach((it,i)=>{
    const cy=y+37+i*62;
    g.append("line").attr("x1",x+25).attr("x2",x+160).attr("y1",cy).attr("y2",cy).attr("stroke",it[1]).attr("stroke-width",3.2);
    g.append("text").text(it[0]).attr("x",x+175).attr("y",cy+17).attr("font-size",41);
  });
}
legend(204,620,287,140,[["MCS","#1515ff"],["LDS","#ff1010"]]);
legend(203,1328,287,140,[["LDS","#ff1010"],["MCS","#1515ff"]]);
</script></body></html>]]>
